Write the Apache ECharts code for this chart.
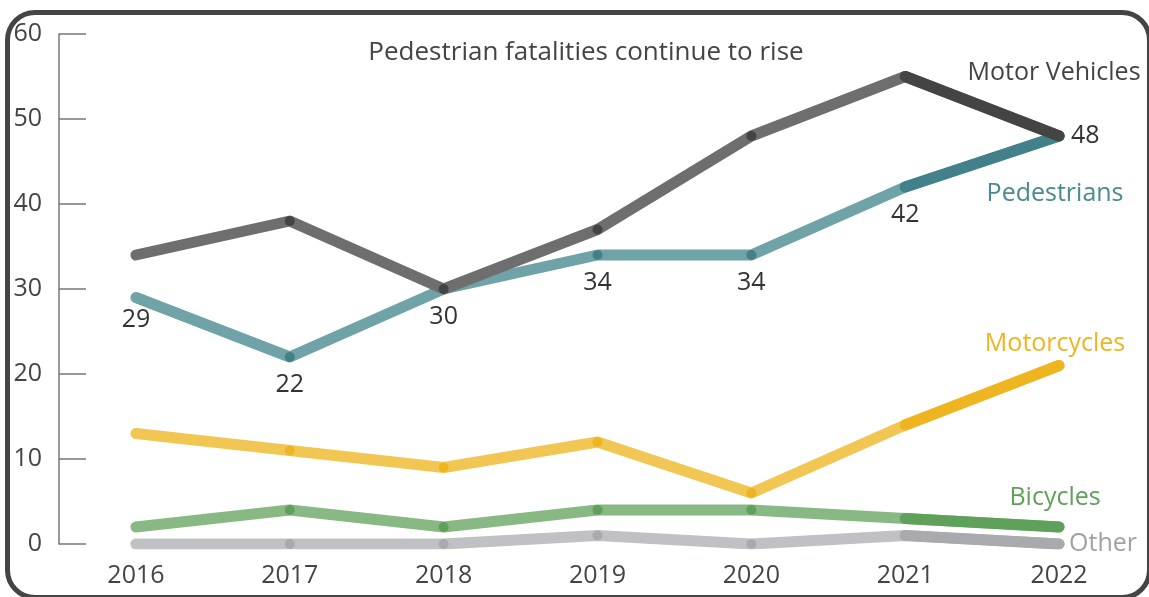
<!DOCTYPE html>
<html>
<head>
<meta charset="utf-8">
<script src="https://cdn.jsdelivr.net/npm/echarts@6/dist/echarts.min.js"></script>
<style>
  html, body { margin:0; padding:0; background:#fff; }
  #wrap { position:relative; width:1149px; height:597px; overflow:hidden; background:#fff; }
  #frame { position:absolute; left:5px; top:10px; width:1147px; height:590px; box-sizing:border-box;
           border:5px solid #444; border-radius:30px; }
  #chart { position:absolute; left:0; top:0; width:1149px; height:597px; }
</style>
</head>
<body>
<div id="wrap"><div id="frame"></div><div id="chart"></div></div>
<script>
const years = ['2016','2017','2018','2019','2020','2021','2022'];
const yTicks = [0, 10, 20, 30, 40, 50, 60];
const motorVehicles = [34, 38, 30, 37, 48, 55, 48];
const pedestrians   = [29, 22, 30, 34, 34, 42, 48];
const motorcycles   = [13, 11, 9, 12, 6, 14, 21];
const bicycles      = [2, 4, 2, 4, 4, 3, 2];
const other         = [0, 0, 0, 1, 0, 1, 0];
const title = 'Pedestrian fatalities continue to rise';

const FONT = 'Open Sans';
const FS = 25;
const LW = 11;
const lastTwo = arr => arr.map((v, i) => i >= arr.length - 2 ? v : null);

function pair(name, data, light, dark, textColor, endLabel, extra) {
  const n = data.length;
  const main = {
    name: name, type: 'line', data: data, z: 2,
    lineStyle: { width: LW, color: light, cap: 'round', join: 'round' },
    itemStyle: { color: dark },
    symbol: 'circle', symbolSize: (v, p) => (p.dataIndex === 0 || p.dataIndex === n - 1) ? 0 : 10,
    showSymbol: true, animation: false, silent: true
  };
  Object.assign(main, extra || {});
  const lastData = lastTwo(data).map((v, i) => {
    if (i === n - 1) {
      return { value: v, label: Object.assign({ show: true, fontFamily: FONT, fontSize: FS, color: textColor,
        formatter: name }, endLabel) };
    }
    return v;
  });
  const last = {
    name: name + ' recent', type: 'line', data: lastData, z: 3,
    lineStyle: { width: LW, color: dark, cap: 'round', join: 'round' },
    itemStyle: { color: dark },
    symbol: 'circle', symbolSize: 0, showSymbol: true,
    connectNulls: false, animation: false, silent: true
  };
  return [main, last];
}

const series = [].concat(
  pair('Other', other, '#c0c1c4', '#a9aaad', '#a0a1a4', { position: 'right', distance: 10 }),
  pair('Bicycles', bicycles, '#88b884', '#5fa05a', '#5fa05a', { position: 'top', offset: [-4, -12] }),
  pair('Motorcycles', motorcycles, '#f2c653', '#efb520', '#efb520', { position: 'top', offset: [-4, -4] }),
  pair('Pedestrians', pedestrians, '#6fa3a8', '#42808a', '#4a8a92', { position: 'bottom', offset: [-4, 40] }, {
    label: { show: true, position: 'bottom', distance: 10, fontFamily: FONT, fontSize: FS, color: '#333',
      formatter: p => p.dataIndex === pedestrians.length - 1 ? '' : String(p.value) }
  }),
  pair('Motor Vehicles', motorVehicles, '#6e6e6e', '#444444', '#444444', { position: 'top', offset: [-5, -46] })
);

// "48" value at the end of Motor Vehicles
series.push({
  name: 'end value', type: 'line', z: 4, animation: false, silent: true,
  data: motorVehicles.map((v, i) => i === motorVehicles.length - 1 ? v : null),
  symbol: 'none', lineStyle: { width: 0 },
  endLabel: { show: true, distance: 12, fontFamily: FONT, fontSize: FS, color: '#333', formatter: p => String(p.value) }
});

const chart = echarts.init(document.getElementById('chart'), null, { renderer: 'canvas' });
chart.setOption({
  animation: false,
  backgroundColor: 'transparent',
  title: { text: title, left: 581, top: 35, textAlign: 'center',
    textStyle: { fontFamily: FONT, fontSize: 26, fontWeight: 'normal', color: '#444' } },
  grid: { left: 59, right: 13, top: 34, bottom: 53, containLabel: false },
  xAxis: {
    type: 'category', data: years, boundaryGap: true,
    axisLine: { show: false }, axisTick: { show: false },
    axisLabel: { fontFamily: FONT, fontSize: FS, color: '#444', margin: 19 },
    splitLine: { show: false }
  },
  yAxis: {
    type: 'value', min: yTicks[0], max: yTicks[yTicks.length - 1], interval: 10,
    axisLine: { show: true, lineStyle: { color: '#777', width: 1.5 } },
    axisTick: { show: true, inside: true, length: 27, lineStyle: { color: '#777', width: 1.5 } },
    axisLabel: { fontFamily: FONT, fontSize: FS, color: '#444', margin: 17 },
    splitLine: { show: false }
  },
  series: series
});
</script>
</body>
</html>
